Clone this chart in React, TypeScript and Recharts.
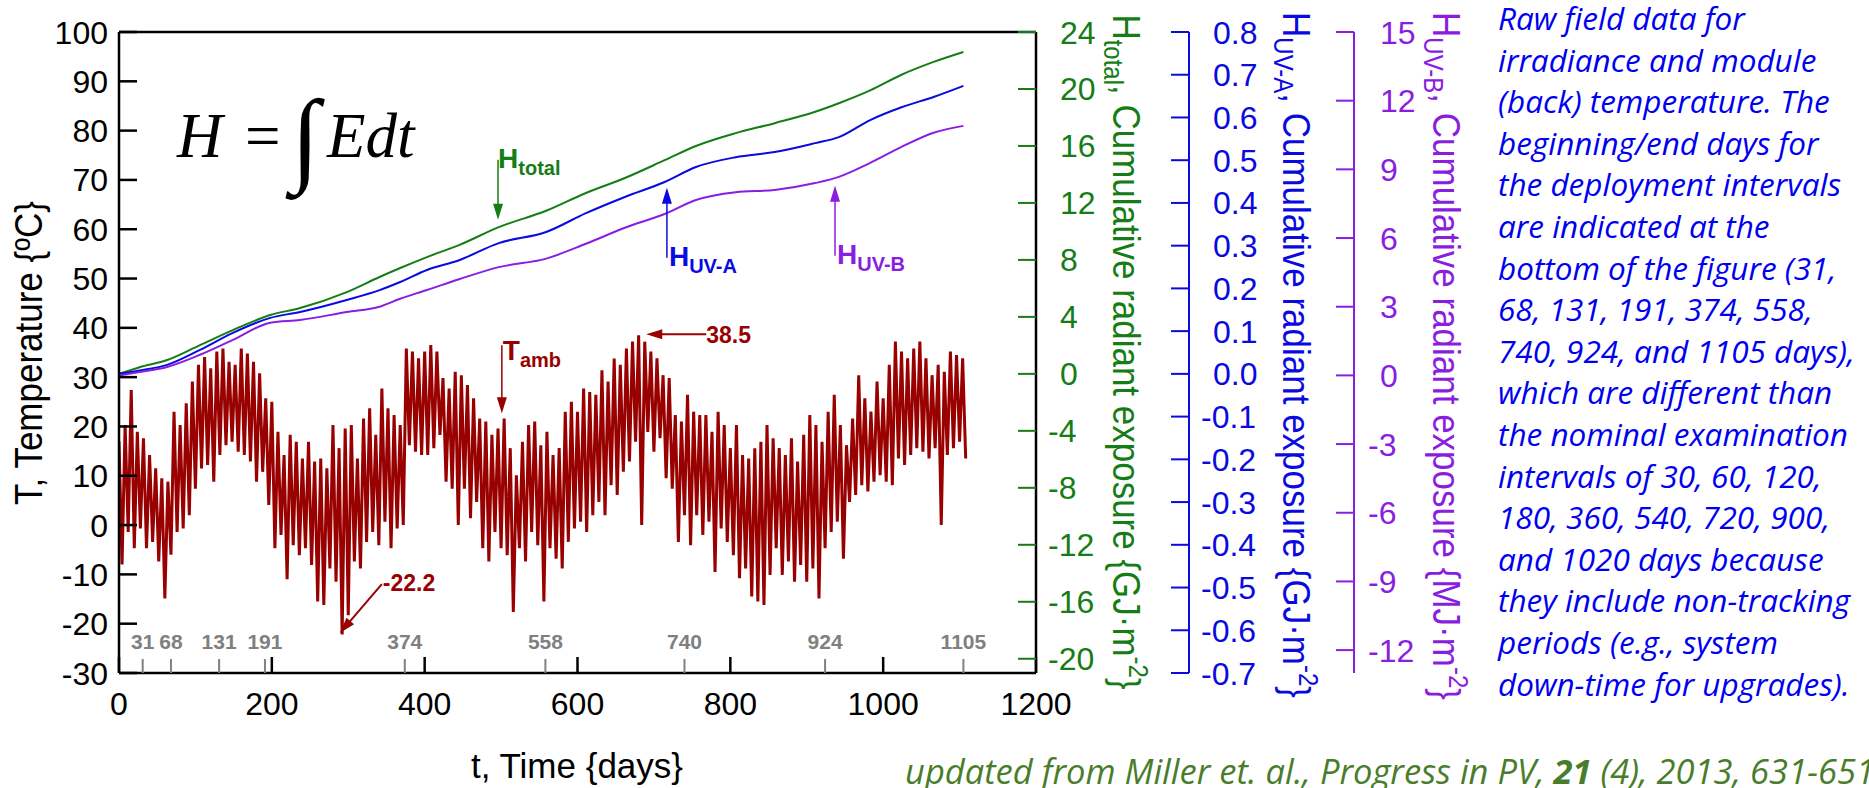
import React from 'react';
import { ComposedChart, Line, Scatter, XAxis, YAxis } from 'recharts';

// ambient temperature, [high, low] pairs read every 8 days (low sits 4 days after high)
const tempYear1 = [
  [17, -8], [20.3, -1.4], [27.4, -4.7], [18.9, -0.7], [17.6, -4.7], [14.2, -3.4], [11.5, -7.4], [9.5, -14.9],
  [8.8, -6], [23, -1.4], [20.3, -0.7], [24.7, 2.0], [29.1, 7.4], [32.5, 11.5], [34.1, 12.2], [31.8, 8.8],
  [35.2, 14.2], [35.8, 16.2], [33.1, 16.9], [32.5, 14.9], [35.8, 14.2], [34.8, 12.9], [33.1, 8.8], [30.8, 10.8],
  [25.7, 4.1], [25.0, -4.7], [18.9, -2.0], [14.2, -11], [18.3, -4.1], [16.9, -6.1], [13.5, -4.7], [16.9, -8.1],
  [12.9, -15.5], [13.5, -16.2], [11.5, -8.8], [20.3, -11.5],
];
const tempYear2 = [
  [15.6, -22.2], [19.6, -18.3], [20.3, -7.4], [13.5, -8.8], [21.6, -3.4], [23.7, -1.4], [18.3, -4.1], [27.7, 0.7],
  [23.7, -4.7], [22.3, -0.7], [20.3, 0], [35.8, 16.2], [35.2, 14.9], [33.8, 14.2], [35.2, 14.2], [36.5, 15.6],
  [35.2, 18.3], [29.8, 8.8], [27.7, 7.4], [31.1, 0], [30.4, 7.4], [28.4, 1.4], [25.7, 4.7], [21.6, -4.7],
  [21, -7.4], [18.3, -1.4], [19.6, -4.7], [21.6, -6.1], [15.6, -17.6], [10.1, -4.7], [16.9, -7.4], [20.3, -1.4],
  [21, -4.1], [16.2, -15.5], [18.9, -4.7],
];
const tempYear3 = [
  [14.2, -6.8], [15.6, -8.8], [23, -3.4], [25, -0.7], [23, 0.7], [27.7, -1.4], [27, 2.0], [26.4, 4.7],
  [31.4, 2.0], [29.1, 8.1], [33.8, 6.1], [32.5, 10.8], [35.8, 12.9], [37.2, 16.9], [38.5, 0], [37.2, 18.9],
  [35.2, 14.9], [33.8, 17.6], [30.4, 9.5], [29.8, 7.4], [22.3, -3.4], [21, 2], [26.4, -4.1], [23, 2],
  [22.3, -2], [22.3, 0.7], [18.9, -9.5], [23, -0.7], [20.3, -3.4], [15.6, -6.1], [20.3, -10.8], [14.2, -8.8],
  [13.5, -14.5], [15.6, -15.5], [16.9, -16.2],
];
const tempYear4 = [
  [20.3, -10.1], [17.6, -4.7], [15.6, -10.1], [14.2, -7.4], [17.6, -11.5], [12.9, -8.1], [18.3, -11.5], [22.3, -8.8],
  [20.3, -14.9], [16.9, -4.7], [23, -1.4], [26.4, 0.7], [20.3, -6.8], [16.2, 4.7], [21.6, 6.1], [30.4, 8.1],
  [25.7, 6.8], [23, 8.8], [29.1, 10.1], [25.7, 8.8], [32.5, 8.1], [37.2, 13.5], [35.2, 12.2], [33.8, 14.2],
  [35.8, 15.6], [37.2, 14.9], [33.8, 13.5], [30.4, 15.6], [32.5, 0], [31.1, 14.2], [35.2, 15.6], [34.5, 16.9],
  [33.8, 13.5],
];
const T_PAIR_STEP = 8;

// cumulative radiant exposure
const cumDays = [0, 27, 63, 106, 149, 198, 237, 298, 341, 368, 403, 445, 497, 559, 611, 662, 714, 755, 807, 858, 911, 942, 983, 1024, 1066, 1105];
const hTotal = [0, 0.47, 0.97, 2.02, 3.07, 4.13, 4.62, 5.74, 6.8, 7.43, 8.2, 9.04, 10.3, 11.45, 12.7, 13.75, 15.0, 16.0, 16.9, 17.6, 18.4, 19.0, 19.9, 21.0, 21.9, 22.6];
const hUVA = [0, 0.008, 0.021, 0.056, 0.096, 0.131, 0.145, 0.173, 0.196, 0.215, 0.243, 0.266, 0.306, 0.332, 0.376, 0.414, 0.449, 0.484, 0.507, 0.519, 0.54, 0.554, 0.594, 0.624, 0.648, 0.674];
const hUVB = [0, 0.15, 0.37, 0.9, 1.55, 2.3, 2.42, 2.77, 3.0, 3.35, 3.73, 4.2, 4.73, 5.1, 5.75, 6.45, 7.05, 7.66, 8.0, 8.1, 8.4, 8.67, 9.28, 9.98, 10.6, 10.9];

const deployDays = [31, 68, 131, 191, 374, 558, 740, 924, 1105];

const xTicks = [0, 200, 400, 600, 800, 1000, 1200];
const topTicks = [200, 400, 600, 800, 1000];
const tTicks = [-30, -20, -10, 0, 10, 20, 30, 40, 50, 60, 70, 80, 90, 100];
const totalTicks = [-20, -16, -12, -8, -4, 0, 4, 8, 12, 16, 20, 24];
const uvaTicks = [-0.7, -0.6, -0.5, -0.4, -0.3, -0.2, -0.1, 0, 0.1, 0.2, 0.3, 0.4, 0.5, 0.6, 0.7, 0.8];
const uvbTicks = [-12, -9, -6, -3, 0, 3, 6, 9, 12, 15];

// arrow tips, in days / degC
const annotations = [
  { id: 'total', day: 496, t: 61.9 },
  { id: 'uva', day: 717, t: 68.4 },
  { id: 'uvb', day: 937, t: 68.8 },
  { id: 'tamb', day: 501, t: 22.7 },
  { id: 'max', day: 690, t: 38.7, label: '38.5' },
  { id: 'min', day: 289, t: -21.9, label: '-22.2' },
];

const noteLines = [
  'Raw field data for',
  'irradiance and module',
  '(back) temperature. The',
  'beginning/end days for',
  'the deployment intervals',
  'are indicated at the',
  'bottom of the figure (31,',
  '68, 131, 191, 374, 558,',
  '740, 924, and 1105 days),',
  'which are different than',
  'the nominal examination',
  'intervals of 30, 60, 120,',
  '180, 360, 540, 720, 900,',
  'and 1020 days because',
  'they include non-tracking',
  'periods (e.g., system',
  'down-time for upgrades).',
];

const tempData = [...tempYear1, ...tempYear2, ...tempYear3, ...tempYear4].flatMap(([hi, lo], i) => [
  { day: i * T_PAIR_STEP, t: hi },
  { day: i * T_PAIR_STEP + T_PAIR_STEP / 2, t: lo },
]);
const cumData = cumDays.map((day, i) => ({ day, total: hTotal[i], uva: hUVA[i], uvb: hUVB[i] }));
const deployData = deployDays.map((day) => ({ day, t: -30 }));

const SANS = '"Liberation Sans", Arial, Helvetica, sans-serif';
const SERIF = '"Liberation Serif", "Times New Roman", serif';
const NOTE = '"Open Sans", "Noto Sans", sans-serif';

const RED = '#990000';
const GREEN = '#167d16';
const BLUE = '#0a0ae0';
const PURPLE = '#8a1ee0';
const GRAY = '#808080';

const LeftTick = ({ x, y, payload }: any) => (
  <g>
    <line x1={x} x2={x + 18} y1={y} y2={y} stroke="#000" strokeWidth={2.5} />
    <text x={x - 11} y={y} dy="0.36em" textAnchor="end" fontSize={32} fontFamily={SANS} fill="#000">
      {payload.value}
    </text>
  </g>
);

const BottomTick = ({ x, y, payload }: any) => (
  <g>
    <line x1={x} x2={x} y1={y} y2={y - 16} stroke="#000" strokeWidth={2.5} />
    <text x={x} y={y + 42} textAnchor="middle" fontSize={32} fontFamily={SANS} fill="#000">
      {payload.value}
    </text>
  </g>
);

const TopTick = ({ x, y }: any) => <line x1={x} x2={x} y1={y} y2={y + 18} stroke="#000" strokeWidth={2.5} />;

const rightTick = (color: string, gap: number, fmt: (v: number) => string) => ({ x, y, payload }: any) => {
  const v = payload.value;
  return (
    <g>
      <line x1={x - 18} x2={x} y1={y} y2={y} stroke={color} strokeWidth={2} />
      <text x={x + (v < 0 ? gap - 12 : gap)} y={y} dy="0.36em" textAnchor="start" fontSize={32} fontFamily={SANS} fill={color}>
        {fmt(v)}
      </text>
    </g>
  );
};

const arrowHead = (tx: number, ty: number, dx: number, dy: number, color: string) => {
  const len = Math.hypot(dx, dy);
  const ux = dx / len;
  const uy = dy / len;
  const bx = tx - ux * 16;
  const by = ty - uy * 16;
  return <polygon points={`${tx},${ty} ${bx - uy * 5},${by + ux * 5} ${bx + uy * 5},${by - ux * 5}`} fill={color} />;
};

const subLabel = (x: number, y: number, main: string, sub: string, color: string) => (
  <text x={x} y={y} fontFamily={SANS} fontWeight="bold" fontSize={28} fill={color}>
    {main}
    <tspan dy={7} fontSize={20}>{sub}</tspan>
  </text>
);

const AnnotationShape = (props: any) => {
  const { cx, cy, payload } = props;
  switch (payload.id) {
    case 'total':
      return (
        <g>
          <line x1={cx} x2={cx} y1={cy - 60} y2={cy - 10} stroke={GREEN} strokeWidth={1.5} />
          {arrowHead(cx, cy, 0, 1, GREEN)}
          {subLabel(cx, cy - 52, 'H', 'total', GREEN)}
        </g>
      );
    case 'uva':
    case 'uvb': {
      const c = payload.id === 'uva' ? BLUE : PURPLE;
      return (
        <g>
          <line x1={cx} x2={cx} y1={cy + 70} y2={cy + 10} stroke={c} strokeWidth={1.5} />
          {arrowHead(cx, cy, 0, -1, c)}
          {subLabel(cx + 2, cy + 78, 'H', payload.id === 'uva' ? 'UV-A' : 'UV-B', c)}
        </g>
      );
    }
    case 'tamb':
      return (
        <g>
          <line x1={cx} x2={cx} y1={cy - 68} y2={cy - 10} stroke={RED} strokeWidth={1.5} />
          {arrowHead(cx, cy, 0, 1, RED)}
          {subLabel(cx + 1, cy - 53, 'T', 'amb', RED)}
        </g>
      );
    case 'max':
      return (
        <g>
          <line x1={cx + 10} x2={cx + 60} y1={cy} y2={cy} stroke={RED} strokeWidth={2} />
          {arrowHead(cx, cy, -1, 0, RED)}
          <text x={cx + 60} y={cy + 9} fontFamily={SANS} fontWeight="bold" fontSize={23} fill={RED}>
            {payload.label}
          </text>
        </g>
      );
    case 'min':
      return (
        <g>
          <line x1={cx + 6} x2={cx + 42} y1={cy - 7} y2={cy - 49} stroke={RED} strokeWidth={2} />
          {arrowHead(cx, cy, -42, 49, RED)}
          <text x={cx + 43} y={cy - 42} fontFamily={SANS} fontWeight="bold" fontSize={23} fill={RED}>
            {payload.label}
          </text>
        </g>
      );
    default:
      return <g />;
  }
};

const DeployShape = (props: any) => {
  const { cx, cy, payload } = props;
  return (
    <g>
      <line x1={cx} x2={cx} y1={cy - 14} y2={cy + 10} stroke={GRAY} strokeWidth={2} />
      <text x={cx} y={cy - 24} textAnchor="middle" fontFamily={SANS} fontWeight="bold" fontSize={21} fill={GRAY}>
        {payload.day}
      </text>
    </g>
  );
};

const rotatedTitle = (x: number, y: number, color: string, sub: string, unit: string) => (
  <text
    transform={`translate(${x},${y}) rotate(90) scale(1,1.12)`}
    textAnchor="middle"
    fontFamily={SANS}
    fontSize={35}
    fill={color}
  >
    H
    <tspan dy={8} fontSize={24}>{sub}</tspan>
    <tspan dy={-8}>{unit}</tspan>
    <tspan dy={-14} fontSize={24}>-2</tspan>
    <tspan dy={14}>{'}'}</tspan>
  </text>
);

export default function App() {
  return (
    <div style={{ position: 'absolute', left: 0, top: 0, width: 1869, height: 788, background: '#fff', overflow: 'hidden' }}>
      <ComposedChart width={1869} height={788} margin={{ top: 31, right: 415, bottom: 0, left: 0 }}>
        <XAxis
          xAxisId="x"
          dataKey="day"
          type="number"
          domain={[0, 1200]}
          ticks={xTicks}
          interval={0}
          height={115}
          tickSize={0}
          tickMargin={0}
          tickLine={false}
          tick={BottomTick}
          axisLine={{ stroke: '#000', strokeWidth: 2.5 }}
          allowDataOverflow
        />
        <XAxis
          xAxisId="top"
          orientation="top"
          type="number"
          domain={[0, 1200]}
          ticks={topTicks}
          interval={0}
          height={1}
          tickSize={0}
          tickMargin={0}
          tickLine={false}
          tick={TopTick}
          axisLine={{ stroke: '#000', strokeWidth: 2.5 }}
          allowDataOverflow
        />
        <YAxis
          yAxisId="T"
          orientation="left"
          type="number"
          width={119}
          domain={[-30, 100]}
          ticks={tTicks}
          interval={0}
          tickSize={0}
          tickMargin={0}
          tickLine={false}
          tick={LeftTick}
          axisLine={{ stroke: '#000', strokeWidth: 2.5 }}
          allowDataOverflow
        />
        {/* right axes are stacked outward in id order */}
        <YAxis
          yAxisId="a_total"
          orientation="right"
          type="number"
          width={153}
          domain={[-21, 24]}
          ticks={totalTicks}
          interval={0}
          tickSize={0}
          tickMargin={0}
          tickLine={false}
          tick={rightTick(GREEN, 24, (v) => String(v))}
          axisLine={{ stroke: '#000', strokeWidth: 2.5 }}
          allowDataOverflow
        />
        <YAxis
          yAxisId="b_uva"
          orientation="right"
          type="number"
          width={165}
          domain={[-0.7, 0.8]}
          ticks={uvaTicks}
          interval={0}
          tickSize={0}
          tickMargin={0}
          tickLine={false}
          tick={rightTick(BLUE, 24, (v) => v.toFixed(1))}
          axisLine={{ stroke: BLUE, strokeWidth: 2 }}
          allowDataOverflow
        />
        <YAxis
          yAxisId="c_uvb"
          orientation="right"
          type="number"
          width={100}
          domain={[-13, 15]}
          ticks={uvbTicks}
          interval={0}
          tickSize={0}
          tickMargin={0}
          tickLine={false}
          tick={rightTick(PURPLE, 26, (v) => String(v))}
          axisLine={{ stroke: PURPLE, strokeWidth: 2 }}
          allowDataOverflow
        />
        <Line data={tempData} xAxisId="x" yAxisId="T" dataKey="t" type="linear" stroke={RED} strokeWidth={3} strokeLinejoin="miter" dot={false} isAnimationActive={false} />
        <Line data={cumData} xAxisId="x" yAxisId="a_total" dataKey="total" type="monotone" stroke={GREEN} strokeWidth={2} dot={false} isAnimationActive={false} />
        <Line data={cumData} xAxisId="x" yAxisId="b_uva" dataKey="uva" type="monotone" stroke={BLUE} strokeWidth={2} dot={false} isAnimationActive={false} />
        <Line data={cumData} xAxisId="x" yAxisId="c_uvb" dataKey="uvb" type="monotone" stroke={PURPLE} strokeWidth={2} dot={false} isAnimationActive={false} />
        <Scatter data={deployData} xAxisId="x" yAxisId="T" dataKey="t" shape={DeployShape} isAnimationActive={false} />
        <Scatter data={annotations} xAxisId="x" yAxisId="T" dataKey="t" shape={AnnotationShape} isAnimationActive={false} />
      </ComposedChart>

      <svg width={1869} height={788} style={{ position: 'absolute', left: 0, top: 0, pointerEvents: 'none' }}>
        <text x={177} y={157} fontFamily={SERIF} fontStyle="italic" fontSize={63}>H</text>
        <text x={245} y={157} fontFamily={SERIF} fontSize={63}>=</text>
        <text x={291} y={172} fontFamily={SERIF} fontSize={104}>∫</text>
        <text x={327} y={157} fontFamily={SERIF} fontStyle="italic" fontSize={63}>Edt</text>

        <text transform="translate(42,353) rotate(-90) scale(1,1.12)" textAnchor="middle" fontFamily={SANS} fontSize={35} fill="#000">
          T, Temperature {'{'}ºC{'}'}
        </text>
        <text x={577} y={778} textAnchor="middle" fontFamily={SANS} fontSize={35} fill="#000">
          t, Time {'{'}days{'}'}
        </text>

        {rotatedTitle(1113, 352, GREEN, 'total', ', Cumulative radiant exposure {GJ·m')}
        {rotatedTitle(1283, 355, BLUE, 'UV-A', ', Cumulative radiant exposure {GJ·m')}
        {rotatedTitle(1433, 356, PURPLE, 'UV-B', ', Cumulative radiant exposure {MJ·m')}

        {noteLines.map((line, i) => (
          <text key={i} x={1498} y={30 + i * 41.6} fontFamily={NOTE} fontStyle="italic" fontSize={31.5} fill="#0000f0">
            {line}
          </text>
        ))}
        <text x={905} y={784} fontFamily={NOTE} fontStyle="italic" fontSize={34.5} fill="#4a7d2b">
          updated from Miller et. al., Progress in PV, <tspan fontWeight="bold">21</tspan> (4), 2013, 631-651
        </text>
      </svg>
    </div>
  );
}
